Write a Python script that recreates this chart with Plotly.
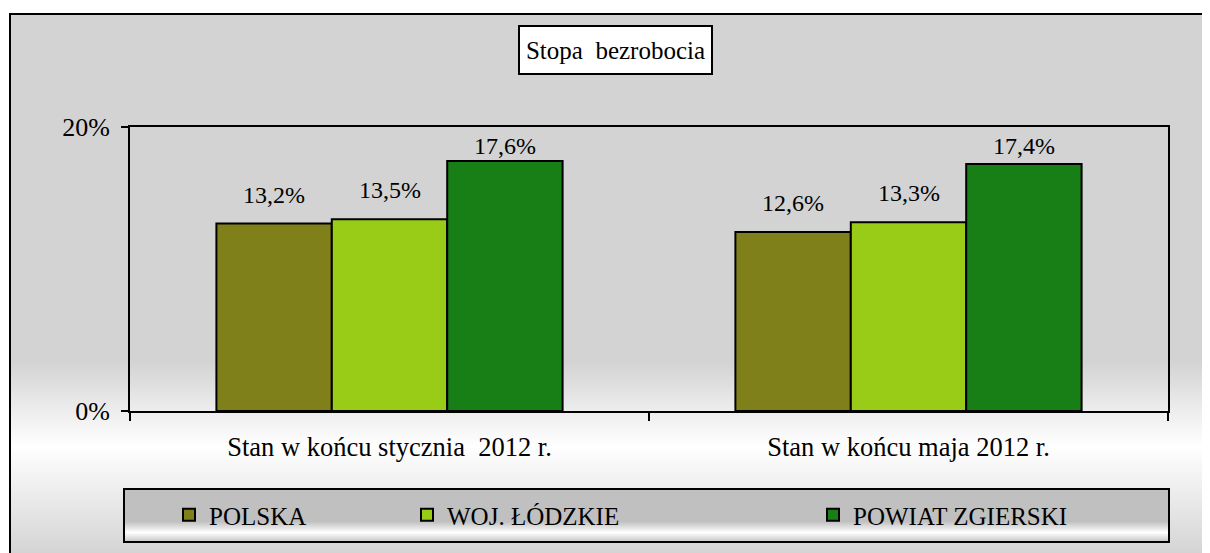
import plotly.graph_objects as go

categories = ["Stan w końcu stycznia\u00a0 2012 r.", "Stan w końcu maja 2012 r."]
series_names = ["POLSKA", "WOJ. ŁÓDZKIE", "POWIAT ZGIERSKI"]
polska = [0.132, 0.126]
lodzkie = [0.135, 0.133]
zgierski = [0.176, 0.174]
y_tickvals = [0, 0.2]
y_ticktext = ["0%", "20%"]
title_text = "Stopa\u00a0 bezrobocia"

series_values = [polska, lodzkie, zgierski]
colors = ["#80801A", "#99CC17", "#187F17"]
FONT = "Liberation Serif, serif"

# page offset of the figure div (body margin)
OFF = 8
# plot area in page pixels
L, R, T, B = 130, 1168, 127, 411
W, H = 1210 - OFF, 553 - OFF
YMAX = 0.2
def px(x):
    return (x - L) / (R - L)
def py(y):
    return (B - y) / (B - T)

bargap = 0.333
fig = go.Figure()
legend_ids = ["legend", "legend2", "legend3"]
for name, vals, col, lg in zip(series_names, series_values, colors, legend_ids):
    fig.add_trace(go.Bar(
        x=categories, y=vals, name=name,
        marker=dict(color=col, line=dict(color="black", width=2)),
        legend=lg,
    ))

# data labels via annotations (positioned through axis scale),
# kept inside the plot area like the original chart does
bw = (1 - bargap) / 3
label_gap_px = 14
label_h_px = 30
px_per_unit = (B - T) / YMAX
annotations = []
for i, vals in enumerate(series_values):
    for j, v in enumerate(vals):
        fits = v + (label_gap_px + label_h_px) / px_per_unit <= YMAX
        annotations.append(dict(
            x=j + (i - 1) * bw, y=v if fits else YMAX, xref="x", yref="y",
            text=f"{v*100:.1f}%".replace(".", ","),
            showarrow=False,
            yanchor="bottom" if fits else "top",
            yshift=label_gap_px if fits else -4,
            font=dict(family=FONT, size=24, color="black"),
        ))

annotations.append(dict(
    x=px(615.5), y=py(50), xref="paper", yref="paper",
    text=title_text, showarrow=False,
    font=dict(family=FONT, size=25, color="black"),
    bgcolor="white", bordercolor="black", borderwidth=2,
    width=189, height=44, xanchor="center", yanchor="middle",
))

shapes = []
shapes.append(dict(type="rect", xref="paper", yref="paper",
                   x0=px(10), x1=px(1230), y0=py(570), y1=py(14),
                   fillcolor="#D3D3D3", line=dict(width=0), layer="below"))
def mix(c0, c1, t):
    return int(round(c0 + (c1 - c0) * t))
y = 360
while y < 560:
    if y < 445:
        t = (y - 360) / 85
        g = mix(211, 255, t)
    else:
        t = min(1, (y - 445) / 108)
        g = mix(255, 212, t)
    shapes.append(dict(type="rect", xref="paper", yref="paper",
                       x0=px(11), x1=px(1230), y0=py(y + 2), y1=py(y),
                       fillcolor=f"rgb({g},{g},{g})", line=dict(width=0), layer="below"))
    y += 2
shapes.append(dict(type="rect", xref="paper", yref="paper",
                   x0=px(10), x1=px(1230), y0=py(570), y1=py(14),
                   fillcolor="rgba(0,0,0,0)", line=dict(color="black", width=2), layer="below"))
# legend box
shapes.append(dict(type="rect", xref="paper", yref="paper",
                   x0=px(124), x1=px(1169), y0=py(542), y1=py(489),
                   fillcolor="#C0C0C0", line=dict(width=0), layer="below"))
y = 521
while y < 541:
    if y < 532:
        t = (y - 521) / 11
        g = mix(192, 255, t)
    else:
        t = (y - 532) / 9
        g = mix(255, 200, t)
    shapes.append(dict(type="rect", xref="paper", yref="paper",
                       x0=px(125), x1=px(1168), y0=py(y + 1), y1=py(y),
                       fillcolor=f"rgb({g},{g},{g})", line=dict(width=0), layer="below"))
    y += 1
shapes.append(dict(type="rect", xref="paper", yref="paper",
                   x0=px(124), x1=px(1169), y0=py(542), y1=py(489),
                   fillcolor="rgba(0,0,0,0)", line=dict(color="black", width=2), layer="below"))

legend_font = dict(family=FONT, size=25, color="black")
def leg(xpix):
    return dict(x=px(xpix), y=py(515), xanchor="left", yanchor="middle",
                xref="paper", yref="paper", orientation="h",
                bgcolor="rgba(0,0,0,0)", borderwidth=0, font=legend_font,
                itemclick=False, itemdoubleclick=False)

fig.update_layout(
    width=W, height=H,
    margin=dict(l=L - OFF, r=W - (R - OFF), t=T - OFF, b=H - (B - OFF), pad=0),
    paper_bgcolor="white", plot_bgcolor="white",
    barmode="group", bargap=bargap, bargroupgap=0,
    showlegend=True,
    legend=leg(169), legend2=leg(407), legend3=leg(813),
    font=dict(family=FONT, size=24, color="black"),
    annotations=annotations, shapes=shapes,
    xaxis=dict(type="category", showline=True, linecolor="black", linewidth=2, mirror=True,
               ticks="outside", tickson="boundaries", ticklen=8, tickwidth=2, tickcolor="black",
               showgrid=False, ticklabelstandoff=11,
               tickfont=dict(family=FONT, size=26.5, color="black")),
    yaxis=dict(range=[0, YMAX], tickvals=y_tickvals, ticktext=y_ticktext,
               showline=True, linecolor="black", linewidth=2, mirror=True,
               ticks="outside", ticklen=7, tickwidth=2, tickcolor="black",
               showgrid=False, zeroline=False, ticklabelstandoff=6,
               tickfont=dict(family=FONT, size=26, color="black")),
)

fig.write_html("out.html")
